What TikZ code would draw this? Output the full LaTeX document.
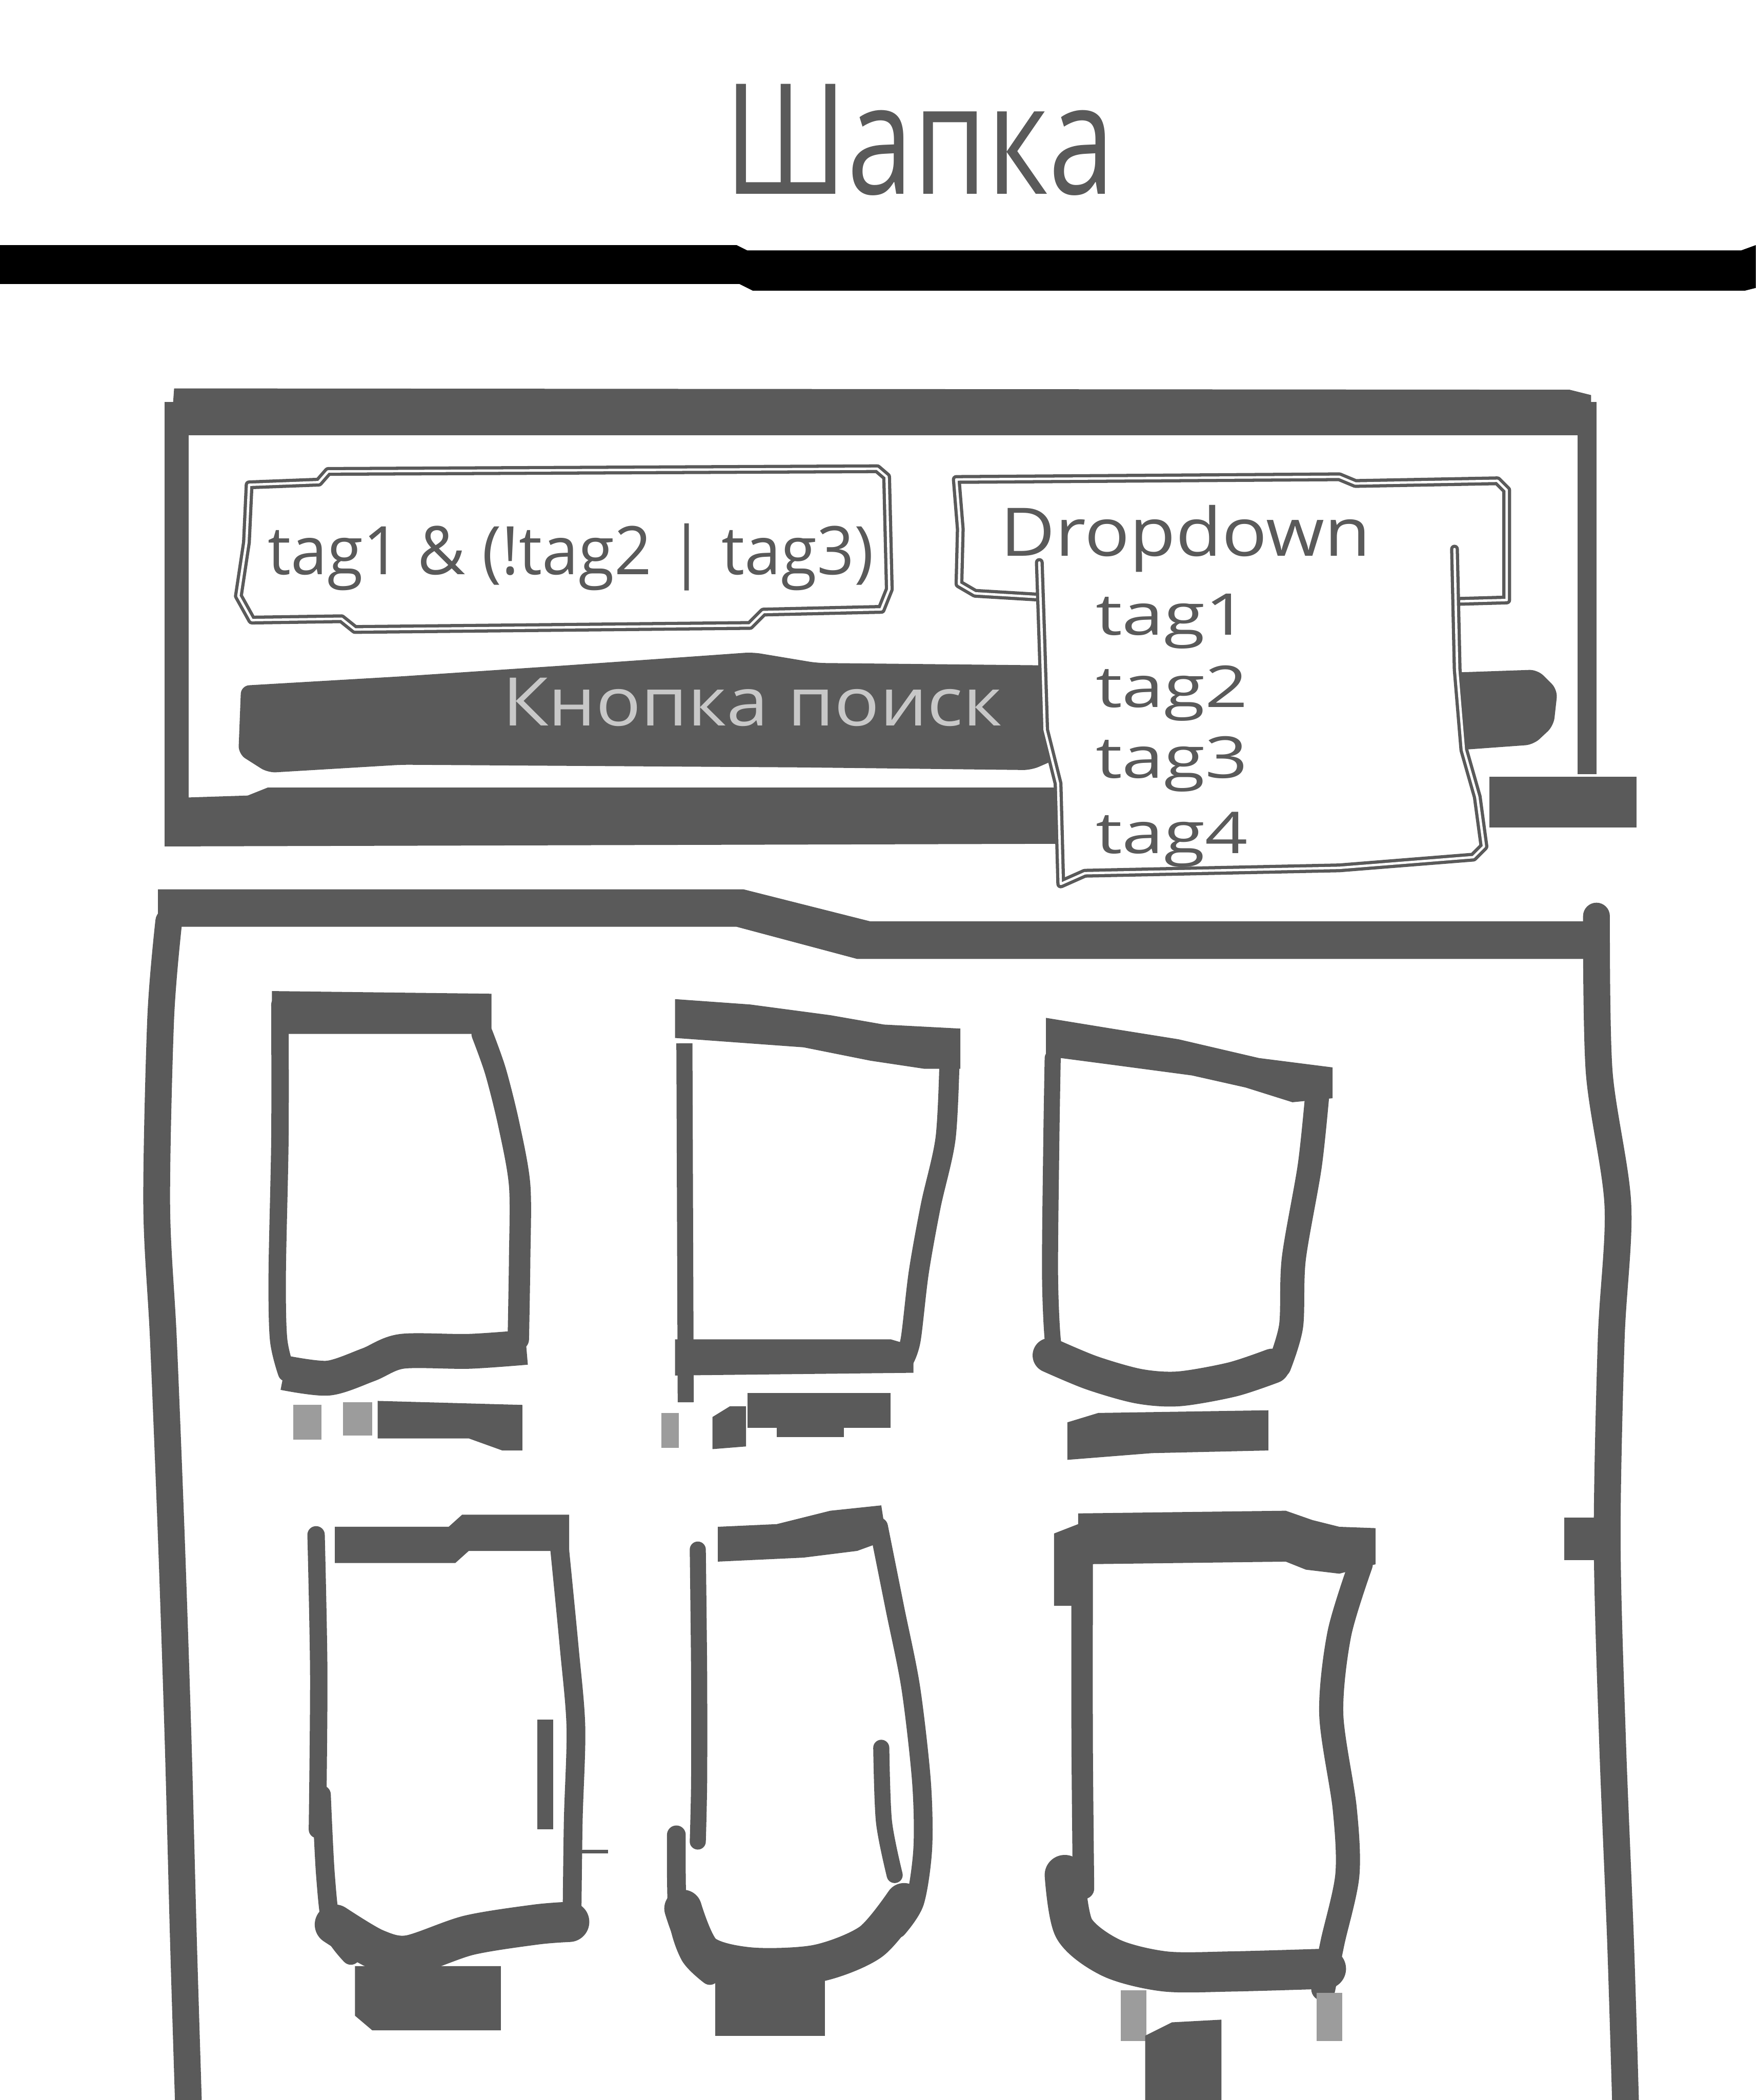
\documentclass[tikz,border=0pt]{standalone}
\usepackage{fontspec}
\usepackage{graphicx}
\setmainfont{Open Sans}
\definecolor{ink}{RGB}{90,90,90}
\definecolor{btntext}{RGB}{200,200,200}
\begin{document}
\begin{tikzpicture}[x=1pt,y=-1pt,
  txt/.style={text=ink, inner sep=0pt, anchor=base west},
  sk/.style={draw=ink, line width=2.4pt, double=white, double distance=1.8pt, line join=round, line cap=round},
  sline/.style={draw=ink, line width=#1, line cap=round, line join=round},
  sline/.default=12pt,
  faint/.style={fill=ink!60}]
\useasboundingbox (0,0) rectangle (1311,1568);
\fill[white] (0,0) rectangle (1311,1568);

% ---- title and header rule
\node[txt, font=\fontsize{115pt}{120pt}\selectfont] (title) at (541,145) {\resizebox{291pt}{\height}{Шапка}};
\fill[black] (0,183) -- (550,183) -- (558,187) -- (1300,187) -- (1311,183) -- (1311,215) -- (1303,217) -- (562,217) -- (552,212) -- (0,212) -- cycle;

% ---- search panel
\fill[ink] (130,290) -- (1172,291) -- (1188,295) -- (1188,325) -- (140,325) -- (128,318) -- cycle;
\fill[ink] (123,300) rectangle (141,632);
\fill[ink] (1178,300) rectangle (1192,578);
\fill[ink] (123,596) -- (185,594) -- (200,588) -- (800,588) -- (800,630) -- (123,632) -- cycle;
\fill[ink] (1112,580) rectangle (1222,618);

% search button
\fill[ink, rounded corners=6pt] (180,512) -- (300,505) -- (420,497) -- (520,490) -- (562,487) -- (610,495) -- (800,497) -- (1090,502) -- (1148,500) -- (1163,515) -- (1160,542) -- (1145,556) -- (1090,560) -- (800,562) -- (770,575) -- (600,573) -- (300,571) -- (200,577) -- (178,563) -- cycle;

% query box
\draw[sk] (186,362) -- (238,360) -- (245,352) -- (655,350) -- (662,356) -- (664,440) -- (658,455) -- (570,457) -- (560,467) -- (265,470) -- (255,462) -- (188,463) -- (178,445) -- (184,405) -- cycle;

% dropdown head
\draw[sk] (778,446) -- (728,443) -- (716,436) -- (717,395) -- (714,358) -- (1000,356) -- (1012,361) -- (1118,359) -- (1125,366) -- (1125,448) -- (1090,449);

% dropdown list
\fill[white] (776,418) -- (778,480) -- (780,545) -- (790,585) -- (792,660) -- (810,652) -- (1000,648) -- (1100,640) -- (1108,632) -- (1103,595) -- (1093,560) -- (1088,500) -- (1086,410) -- cycle;
\draw[sk] (776,420) -- (778,480) -- (780,545) -- (790,585) -- (792,660) -- (810,652) -- (1000,648) -- (1100,640) -- (1108,632) -- (1103,595) -- (1093,560) -- (1088,500) -- (1086,410);

% texts
\node[txt, font=\fontsize{50pt}{55pt}\selectfont] (query) at (200,429) {\resizebox{452pt}{\height}{tag1 \& (!tag2 | tag3)}};
\node[txt, font=\fontsize{50pt}{55pt}\selectfont] (dropdown) at (747,415) {\resizebox{276pt}{\height}{Dropdown}};
\node[txt, text=btntext, font=\fontsize{50pt}{55pt}\selectfont] (btn) at (375,542) {\resizebox{373pt}{\height}{Кнопка поиск}};
\node[txt, font=\fontsize{43pt}{47pt}\selectfont] (tag1) at (818,474) {\scalebox{1.3}[1]{tag1}};
\node[txt, font=\fontsize{43pt}{47pt}\selectfont] (tag2) at (818,528) {\scalebox{1.3}[1]{tag2}};
\node[txt, font=\fontsize{43pt}{47pt}\selectfont] (tag3) at (818,581) {\scalebox{1.3}[1]{tag3}};
\node[txt, font=\fontsize{43pt}{47pt}\selectfont] (tag4) at (818,637) {\scalebox{1.3}[1]{tag4}};

% ---- content box
\fill[ink] (118,664) -- (555,664) -- (650,688) -- (1197,688) -- (1197,716) -- (640,716) -- (550,692) -- (118,692) -- cycle;
\draw[sline=20pt] plot[smooth] coordinates {(126,688) (120,760) (117,900) (122,1000) (128,1150) (133,1300) (137,1450) (141,1580)};
\draw[sline=20pt] plot[smooth] coordinates {(1192,684) (1194,800) (1208,900) (1203,1000) (1200,1150) (1204,1300) (1210,1450) (1214,1580)};
\fill[ink] (1168,1133) rectangle (1195,1165);

% card 1
\fill[ink] (203,740) -- (367,742) -- (367,772) -- (203,772) -- cycle;
\draw[sline=13pt] plot[smooth] coordinates {(209,750) (209,850) (207,950) (208,1000) (214,1025)};
\draw[sline=16pt] plot[smooth] coordinates {(360,772) (370,800) (380,840) (388,885) (388,940) (387,1000)};
\draw[sline=26pt, line cap=butt] plot[smooth] coordinates {(212,1025) (245,1029) (275,1019) (300,1009) (350,1009) (393,1006)};
\fill[faint] (219,1049) rectangle (240,1075);
\fill[faint] (256,1047) rectangle (278,1072);
\fill[ink] (282,1046) -- (390,1049) -- (390,1083) -- (375,1083) -- (350,1074) -- (282,1074) -- cycle;

% card 2
\fill[ink] (504,746) -- (560,750) -- (620,758) -- (660,765) -- (717,768) -- (717,798) -- (690,798) -- (650,792) -- (600,782) -- (504,775) -- cycle;
\draw[sline=12pt, line cap=butt] (511,779) -- (512,1047);
\draw[sline=15pt] plot[smooth] coordinates {(709,790) (706,850) (695,900) (686,950) (680,1000) (675,1015)};
\fill[ink] (504,1000) -- (665,1000) -- (682,1005) -- (682,1025) -- (504,1027) -- cycle;
\fill[faint] (494,1055) rectangle (507,1081);
\fill[ink] (532,1058) -- (545,1050) -- (557,1050) -- (557,1080) -- (532,1082) -- cycle;
\fill[ink] (558,1040) rectangle (665,1066);
\fill[ink] (580,1066) rectangle (630,1073);

% card 3
\fill[ink] (781,760) -- (830,768) -- (880,776) -- (940,790) -- (995,797) -- (995,820) -- (965,823) -- (930,812) -- (890,803) -- (830,795) -- (792,790) -- (781,790) -- cycle;
\draw[sline=12pt] plot[smooth] coordinates {(786,790) (785,850) (784,950) (786,1000) (790,1015)};
\draw[sline=18pt] plot[smooth] coordinates {(984,812) (978,870) (966,940) (964,990) (955,1020)};
\draw[sline=26pt] plot[smooth] coordinates {(784,1012) (815,1025) (850,1035) (880,1037) (920,1030) (950,1020)};
\fill[ink] (797,1062) -- (820,1055) -- (947,1053) -- (947,1083) -- (860,1085) -- (797,1090) -- cycle;

% card 4
\fill[ink] (250,1140) -- (335,1140) -- (345,1131) -- (425,1131) -- (425,1158) -- (350,1158) -- (340,1167) -- (250,1167) -- cycle;
\draw[sline=13pt] plot[smooth] coordinates {(236,1146) (238,1250) (237,1366)};
\draw[sline=14pt] plot[smooth] coordinates {(240,1340) (243,1400) (248,1440) (262,1460)};
\draw[sline=14pt] plot[smooth] coordinates {(418,1158) (425,1230) (430,1290) (428,1360) (427,1440)};
\draw[sline=30pt] plot[smooth] coordinates {(250,1437) (280,1455) (305,1460) (350,1445) (400,1437) (425,1435)};
\fill[ink] (265,1468) -- (374,1468) -- (374,1516) -- (278,1516) -- (265,1505) -- cycle;
\fill[ink] (401,1284) rectangle (413,1366);
\fill[ink] (429,1381) rectangle (454,1384);

% card 5
\fill[ink] (536,1140) -- (580,1138) -- (620,1128) -- (658,1124) -- (662,1150) -- (640,1158) -- (600,1163) -- (536,1166) -- cycle;
\draw[sline=12pt] plot[smooth] coordinates {(521,1157) (522,1250) (522,1330) (521,1375)};
\draw[sline=14pt] plot[smooth] coordinates {(505,1370) (506,1430) (515,1460) (530,1475)};
\draw[sline=14pt] plot[smooth] coordinates {(656,1140) (668,1200) (680,1260) (688,1330) (689,1380) (683,1420) (670,1440)};
\draw[sline=12pt] plot[smooth] coordinates {(658,1305) (660,1360) (668,1400)};
\draw[sline=28pt] plot[smooth] coordinates {(510,1425) (525,1458) (560,1468) (610,1466) (650,1450) (675,1420)};
\fill[ink] (534,1470) rectangle (616,1520);

% card 6
\fill[ink] (805,1130) -- (960,1128) -- (980,1135) -- (1000,1140) -- (1027,1141) -- (1027,1168) -- (1000,1175) -- (975,1172) -- (960,1166) -- (805,1168) -- cycle;
\fill[ink] (787,1145) -- (805,1138) -- (805,1199) -- (787,1199) -- cycle;
\draw[sline=16pt] plot[smooth] coordinates {(808,1168) (808,1300) (809,1410)};
\draw[sline=18pt] plot[smooth] coordinates {(1016,1168) (1000,1220) (994,1280) (1004,1350) (1006,1400) (995,1450) (988,1485)};
\draw[sline=30pt] plot[smooth] coordinates {(795,1400) (802,1440) (830,1462) (870,1472) (920,1472) (990,1470)};
\fill[faint] (837,1486) rectangle (856,1524);
\fill[faint] (983,1488) rectangle (1002,1524);
\fill[ink] (855,1520) -- (875,1510) -- (912,1508) -- (912,1568) -- (855,1568) -- cycle;
\end{tikzpicture}
\end{document}
